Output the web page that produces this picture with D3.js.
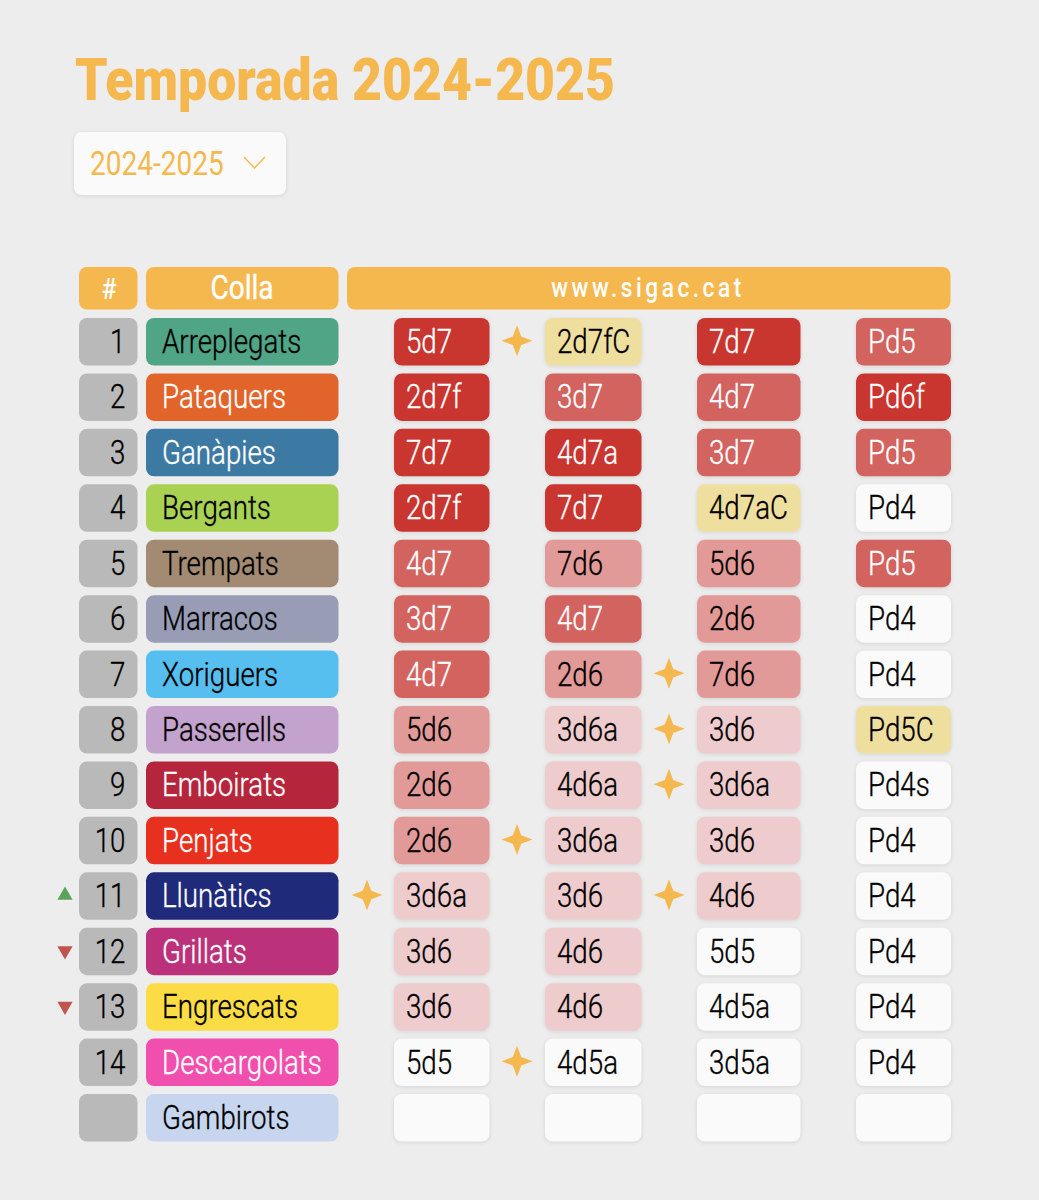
<!DOCTYPE html>
<html>
<head>
<meta charset="utf-8">
<script src="https://cdnjs.cloudflare.com/ajax/libs/d3/7.8.5/d3.min.js"></script>
<style>
  html, body { margin: 0; background: #ededed; }
  svg { display: block; font-family: Roboto, sans-serif; }
  .box { filter: drop-shadow(0 1px 2px rgba(0,0,0,0.10)); }
  .flat { filter: none; }
</style>
</head>
<body>
<div id="chart"></div>
<script>
const title = "Temporada 2024-2025";
const season = "2024-2025";
const headers = ["#", "Colla", "www.sigac.cat"];

const colles = ["Arreplegats", "Pataquers", "Ganàpies", "Bergants", "Trempats", "Marracos", "Xoriguers",
  "Passerells", "Emboirats", "Penjats", "Llunàtics", "Grillats", "Engrescats", "Descargolats", "Gambirots"];
const ranks = ["1", "2", "3", "4", "5", "6", "7", "8", "9", "10", "11", "12", "13", "14", ""];
const collaFill = ["#4fa585", "#e1652b", "#3d7aa3", "#a9d152", "#a38a72", "#989db5", "#56bff0",
  "#c3a2cd", "#b5263c", "#e8301f", "#1f2a7a", "#bb317a", "#fbdc45", "#f04fae", "#c7d6ee"];
const collaInk = ["#000", "#fff", "#fff", "#000", "#000", "#000", "#000",
  "#000", "#fff", "#fff", "#fff", "#fff", "#000", "#fff", "#000"];

const ronda1 = ["5d7", "2d7f", "7d7", "2d7f", "4d7", "3d7", "4d7", "5d6", "2d6", "2d6", "3d6a", "3d6", "3d6", "5d5", ""];
const ronda2 = ["2d7fC", "3d7", "4d7a", "7d7", "7d6", "4d7", "2d6", "3d6a", "4d6a", "3d6a", "3d6", "4d6", "4d6", "4d5a", ""];
const ronda3 = ["7d7", "4d7", "3d7", "4d7aC", "5d6", "2d6", "7d6", "3d6", "3d6a", "3d6", "4d6", "5d5", "4d5a", "3d5a", ""];
const ronda4 = ["Pd5", "Pd6f", "Pd5", "Pd4", "Pd5", "Pd4", "Pd4", "Pd5C", "Pd4s", "Pd4", "Pd4", "Pd4", "Pd4", "Pd4", ""];
const rondes = [ronda1, ronda2, ronda3, ronda4];

// colla index and the gap the star sits in (0 = before first round)
const starRows = [0, 6, 7, 8, 9, 10, 10, 13];
const starGaps = [1, 2, 2, 2, 1, 0, 2, 1];

const moveRows = [10, 11, 12];
const moveDirs = ["up", "down", "down"];

const castleNames = ["5d7", "7d7", "2d7f", "4d7a", "Pd6f",
  "4d7", "3d7", "Pd5",
  "2d6", "5d6", "7d6",
  "3d6", "4d6", "3d6a", "4d6a",
  "2d7fC", "4d7aC", "Pd5C"];
const castleColors = ["#c9352f", "#c9352f", "#c9352f", "#c9352f", "#c9352f",
  "#d2635f", "#d2635f", "#d2635f",
  "#e29a98", "#e29a98", "#e29a98",
  "#eecbcc", "#eecbcc", "#eecbcc", "#eecbcc",
  "#efdf9f", "#efdf9f", "#efdf9f"];

const width = 1039;
const height = 1200;
const orange = "#f5b84f";
const squeeze = 0.84;

const castleFill = d3.scaleOrdinal().domain(castleNames).range(castleColors).unknown("#fafafa");
const castleInk = c => ["#c9352f", "#d2635f"].includes(castleFill(c)) ? "#fff" : "#000";

const y = d3.scaleLinear().domain([0, 14]).range([318, 1094]);
const rowH = 47.5;
const colX = d3.scaleOrdinal().domain([0, 1, 2, 3]).range([394, 545, 697, 856]);
const colW = d3.scaleOrdinal().domain([0, 1, 2, 3]).range([95.5, 96.5, 103.5, 95]);
const gapX = d3.scaleOrdinal().domain([0, 1, 2]).range([367, 517, 669]);

const svg = d3.select("#chart").append("svg").attr("width", width).attr("height", height);

function box(x, yy, w, h, fill, flat) {
  svg.append("rect").attr("class", flat ? "flat" : "box")
    .attr("x", x).attr("y", yy).attr("width", w).attr("height", h)
    .attr("rx", 8).attr("fill", fill);
}

function label(str, x, yy, size, fill, opts = {}) {
  return svg.append("text")
    .attr("transform", `translate(${x},${yy}) scale(${opts.squeeze || squeeze},1)`)
    .attr("text-anchor", opts.anchor || "start")
    .attr("font-size", size)
    .attr("font-weight", opts.weight || 300)
    .attr("letter-spacing", opts.spacing || null)
    .attr("fill", fill)
    .attr("stroke", opts.halo ? fill : null)
    .attr("stroke-width", opts.halo || null)
    .text(str);
}

label(title, 75, 100, 60, orange, { weight: 900, squeeze: 0.862 });

box(74, 132, 212, 63, "#fafafa");
label(season, 90, 175, 33, orange, { weight: 400, squeeze: 0.85 });
svg.append("path")
  .attr("d", d3.line()([[244, 157], [254.5, 168], [265, 157]]))
  .attr("fill", "none").attr("stroke", orange).attr("stroke-width", 1.4);

box(79, 267, 58.5, 42.5, orange, true);
box(146, 267, 192.5, 42.5, orange, true);
box(347, 267, 603.5, 42.5, orange, true);
label(headers[0], 109, 299, 30, "#fff", { anchor: "middle", weight: 500 });
label(headers[1], 242, 299, 33, "#fff", { anchor: "middle", weight: 400, squeeze: 0.85, halo: 0.4 });
label(headers[2], 648, 297, 27, "#fff", { anchor: "middle", weight: 500, spacing: 4.2 });

// Roboto Light with a hairline stroke, to sit between Light and Regular
colles.forEach((name, i) => {
  box(79, y(i), 58.5, rowH, "#b9b9b9", true);
  label(ranks[i], 125.5, y(i) + 35, 33, "#000", { anchor: "end", halo: 0.35 });
  box(146, y(i), 192.5, rowH, collaFill[i], true);
  label(name, 162, y(i) + 35, 33, collaInk[i], { halo: 0.35 });

  rondes.forEach((ronda, c) => {
    const castle = ronda[i];
    box(colX(c), y(i), colW(c), rowH, castleFill(castle));
    label(castle, colX(c) + 12, y(i) + 35, 33, castleInk(castle), { halo: 0.35 });
  });
});

// four point star with concave sides
const star = d3.lineRadial().curve(d3.curveLinearClosed)
  .angle((d, i) => i * Math.PI / 4)
  .radius((d, i) => i % 2 ? 6 : 15.5);
starRows.forEach((r, i) => {
  svg.append("path")
    .attr("d", star(d3.range(8)))
    .attr("transform", `translate(${gapX(starGaps[i])},${y(r) + rowH / 2 - 1})`)
    .attr("fill", orange);
});

const triangle = d3.symbol().type(d3.symbolTriangle).size(100);
moveRows.forEach((r, i) => {
  const up = moveDirs[i] === "up";
  svg.append("path")
    .attr("d", triangle())
    .attr("transform", `translate(65,${y(r) + 23}) rotate(${up ? 0 : 180})`)
    .attr("fill", up ? "#5aa35a" : "#c0544f");
});
</script>
</body>
</html>
